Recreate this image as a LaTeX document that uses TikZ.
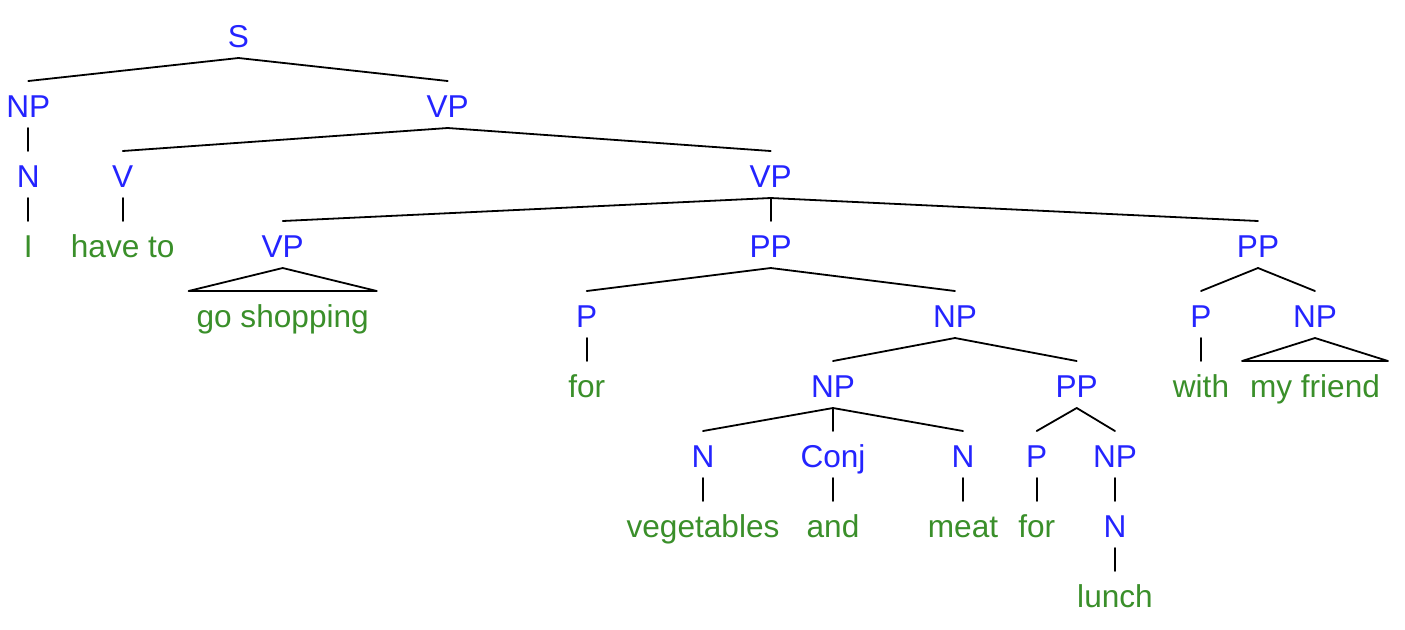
\documentclass[tikz,border=0pt]{standalone}
\usepackage{fontspec}
\setmainfont{Liberation Sans}
\usetikzlibrary{calc}
\definecolor{catblue}{RGB}{36,36,255}
\definecolor{wordgreen}{RGB}{58,143,42}
\newcommand\tedge[2]{\draw[edge] ($(#1.base)+(0,10.4)$) -- ($(#2.base)+(0,-36.6)$);}
\newcommand\tri[2]{\draw[edge] ($(#2.base west)+(-8,-36.6)$) -- ($(#1.base)+(0,10.4)$) -- ($(#2.base east)+(8,-36.6)$) -- cycle;}
\begin{document}
\begin{tikzpicture}[x=0.5pt,y=-0.5pt,
  lbl/.style={anchor=base,inner sep=0pt,outer sep=0pt,font=\fontsize{15.8}{18}\selectfont},
  cat/.style={lbl,text=catblue},
  word/.style={lbl,text=wordgreen},
  edge/.style={draw=black,line width=0.9pt,line cap=round,line join=round}]
\useasboundingbox (0,0) rectangle (1405,629);
% row 0
\node[cat] (s) at (238.5,47.6) {S};
% row 1
\node[cat] (np1) at (28.3,117.6) {NP};
\node[cat] (vp1) at (447.7,117.6) {VP};
% row 2
\node[cat] (n1) at (28.3,187.6) {N};
\node[cat] (v1) at (122.7,187.6) {V};
\node[cat] (vp2) at (770.7,187.6) {VP};
% row 3
\node[word] (i1) at (28.3,257.6) {I};
\node[word] (have) at (122.7,257.6) {have to};
\node[cat] (vp3) at (282.7,257.6) {VP};
\node[cat] (pp1) at (770.7,257.6) {PP};
\node[cat] (pp2) at (1258,257.6) {PP};
% row 4
\node[word] (goshop) at (282.7,327.6) {go shopping};
\node[cat] (p1) at (586.7,327.6) {P};
\node[cat] (np2) at (955,327.6) {NP};
\node[cat] (p2) at (1201,327.6) {P};
\node[cat] (np3) at (1315,327.6) {NP};
% row 5
\node[word] (for1) at (586.7,397.6) {for};
\node[cat] (np4) at (833,397.6) {NP};
\node[cat] (pp3) at (1076.7,397.6) {PP};
\node[word] (with) at (1201,397.6) {with};
\node[word] (friend) at (1315,397.6) {my friend};
% row 6
\node[cat] (n2) at (703,467.6) {N};
\node[cat] (conj) at (833,467.6) {Conj};
\node[cat] (n3) at (963,467.6) {N};
\node[cat] (p3) at (1036.7,467.6) {P};
\node[cat] (np5) at (1115,467.6) {NP};
% row 7
\node[word] (veg) at (703,537.6) {vegetables};
\node[word] (andw) at (833,537.6) {and};
\node[word] (meat) at (963,537.6) {meat};
\node[word] (for2) at (1036.7,537.6) {for};
\node[cat] (n4) at (1115,537.6) {N};
% row 8
\node[word] (lunch) at (1115,607.6) {lunch};
% edges
\tedge{s}{np1}
\tedge{s}{vp1}
\tedge{np1}{n1}
\tedge{n1}{i1}
\tedge{vp1}{v1}
\tedge{vp1}{vp2}
\tedge{v1}{have}
\tedge{vp2}{vp3}
\tedge{vp2}{pp1}
\tedge{vp2}{pp2}
\tri{vp3}{goshop}
\tedge{pp1}{p1}
\tedge{pp1}{np2}
\tedge{p1}{for1}
\tedge{np2}{np4}
\tedge{np2}{pp3}
\tedge{np4}{n2}
\tedge{np4}{conj}
\tedge{np4}{n3}
\tedge{n2}{veg}
\tedge{conj}{andw}
\tedge{n3}{meat}
\tedge{pp3}{p3}
\tedge{pp3}{np5}
\tedge{p3}{for2}
\tedge{np5}{n4}
\tedge{n4}{lunch}
\tedge{pp2}{p2}
\tedge{pp2}{np3}
\tedge{p2}{with}
\tri{np3}{friend}
\end{tikzpicture}
\end{document}
